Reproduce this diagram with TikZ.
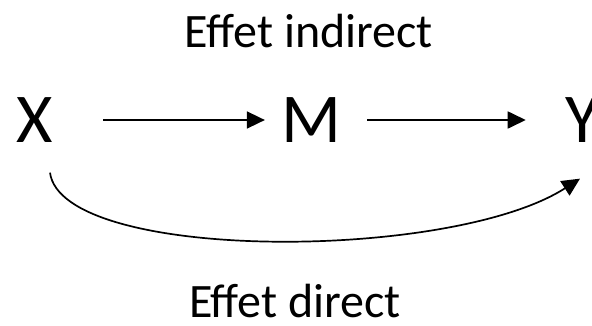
\documentclass[tikz,border=0pt]{standalone}
\usepackage{fontspec}
\setmainfont{Carlito}
\usepackage{tikz}
\usetikzlibrary{arrows.meta}

\begin{document}
\begin{tikzpicture}[x=1pt,y=1pt,
  var/.style={inner sep=0pt,font=\fontsize{70}{80}\selectfont},
  lab/.style={inner sep=0pt,anchor=base,font=\fontsize{48}{56}\selectfont},
  link/.style={line width=1.7pt,-{Triangle[length=18pt,width=17pt]}}]
  \useasboundingbox (0,0) rectangle (592,-325);
  % variables
  \node[var] (X) at (35,-120) {X};
  \node[var] (M) at (311,-120) {M};
  \node[var] (Y) at (583,-120) {Y};
  % labels
  \node[lab] (ind) at (309,-47) {Effet indirect};
  \node[lab] (dir) at (295,-317) {Effet direct};
  % paths
  \draw[link,shorten <=50pt,shorten >=16pt] (X) -- (M);
  \draw[link,shorten <=26pt,shorten >=40pt] (M) -- (Y);
  \draw[link] ([xshift=15pt,yshift=-30pt]X.south)
    .. controls (62,-262) and (450,-262) .. ([xshift=-3pt,yshift=-36pt]Y.south);
\end{tikzpicture}
\end{document}
